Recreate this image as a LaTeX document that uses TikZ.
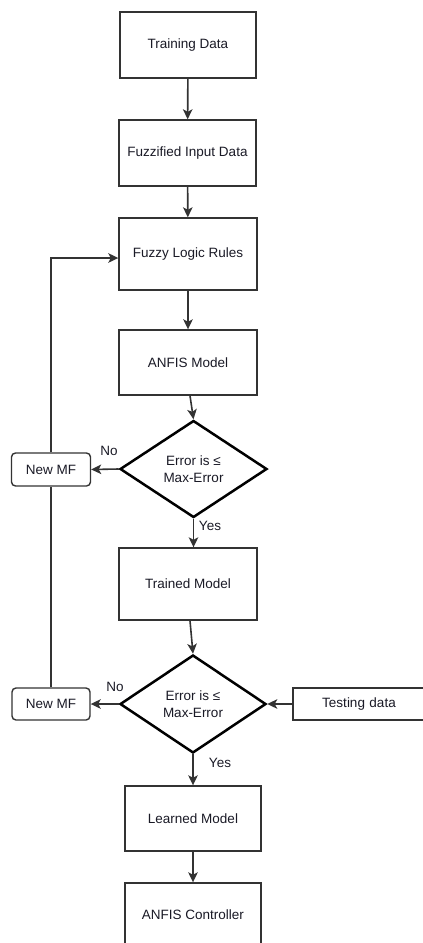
\documentclass[tikz,border=0pt]{standalone}
\usepackage{fontspec}
\setmainfont{Liberation Sans}
\usetikzlibrary{shapes.geometric,arrows.meta}
\definecolor{linec}{HTML}{333333}
\definecolor{txtc}{HTML}{1A1A26}
\tikzset{
  every node/.style={text=txtc, font=\fontsize{13.5}{17}\selectfont},
  procbox/.style={draw=linec, line width=1.4pt, fill=white, inner sep=0pt},
  mfbox/.style={draw=linec, line width=1.4pt, fill=white, rounded corners=4pt, inner sep=0pt, minimum width=79pt, minimum height=33pt},
  decision/.style={draw=black, line width=2.5pt, fill=white, diamond, inner sep=0pt, align=center},
  flow/.style={draw=linec, line width=1.6pt, -{Stealth[length=10pt,width=9.5pt,inset=2.5pt]}},
  plain/.style={draw=linec, line width=1.6pt},
  lbl/.style={inner sep=0pt}
}
\begin{document}
\begin{tikzpicture}[x=1pt,y=-1pt]
\useasboundingbox (0,0) rectangle (423,943);
\node[procbox, minimum width=136pt, minimum height=66pt] (train) at (188,45) {Training Data};
\node[procbox, minimum width=137pt, minimum height=66pt] (fuzzin) at (187.5,153) {Fuzzified Input Data};
\node[procbox, minimum width=138pt, minimum height=72pt] (rules) at (188,254) {Fuzzy Logic Rules};
\node[procbox, minimum width=138pt, minimum height=65pt] (anfis) at (188,362.5) {ANFIS Model};
\node[decision, minimum width=147pt, minimum height=97pt] (d1) at (193.5,469) {Error is ≤\\Max-Error};
\node[mfbox] (mf1) at (51,469.5) {New MF};
\node[procbox, minimum width=138pt, minimum height=72pt] (trained) at (188,584) {Trained Model};
\node[decision, minimum width=146pt, minimum height=98pt] (d2) at (193,704) {Error is ≤\\Max-Error};
\node[mfbox, minimum width=78pt, minimum height=32pt] (mf2) at (51,704) {New MF};
\node[procbox, minimum width=140pt, minimum height=32pt, text width=132pt, align=center] (test) at (363,704) {Testing data\hspace*{8pt}};
\node[procbox, minimum width=136pt, minimum height=65pt] (learned) at (193,818.5) {Learned Model};
\node[procbox, minimum width=136pt, minimum height=64pt] (ctrl) at (193,915) {ANFIS Controller};
\coordinate (corner) at (mf1.north |- 0,258);
\coordinate (rulesin) at (rules.west |- 0,258);

\draw[flow] (train) -- (fuzzin);
\draw[flow] (fuzzin) -- (rules);
\draw[flow] (rules) -- (anfis);
\draw[flow] ([xshift=2pt]anfis.south) -- (d1.north);
\draw[flow] (d1.west) -- (mf1.east);
\draw[flow] (d1.south) -- (trained.north -| d1.south);
\draw[flow] ([xshift=2pt]trained.south) -- (d2.north);
\draw[flow] (d2.west) -- (mf2.east);
\draw[flow] (test.west) -- (d2.east);
\draw[flow] (d2.south) -- (learned.north);
\draw[flow] (learned) -- (ctrl);
\draw[plain] (mf2.north) -- (mf1.south);
\draw[flow] (mf1.north) -- (corner) -- (rulesin);

\node[lbl] (no1) at (109,451) {No};
\node[lbl] (yes1) at (210,526) {Yes};
\node[lbl] (no2) at (115,687) {No};
\node[lbl] (yes2) at (220,763) {Yes};
\end{tikzpicture}
\end{document}
